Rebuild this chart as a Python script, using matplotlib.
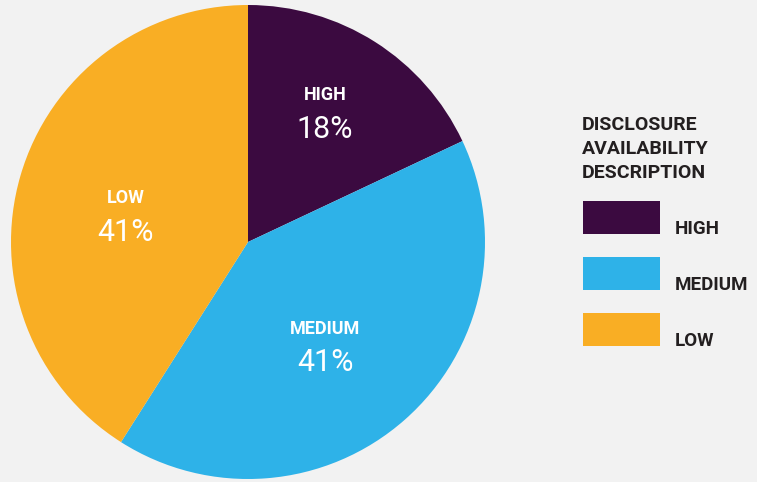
import matplotlib.pyplot as plt

# Disclosure availability shares
categories = ['HIGH', 'MEDIUM', 'LOW']
shares = [18, 41, 41]
colors = ['#3B0A40', '#2EB2E8', '#F9AE24']
legend_title = ['DISCLOSURE', 'AVAILABILITY', 'DESCRIPTION']

# where the in-slice labels sit (pie data units)
label_pos = [(0.325, 0.55), (0.325, -0.435), (-0.515, 0.115)]

bg = '#F2F2F2'
W, H = 757, 482

fig = plt.figure(figsize=(W / 100, H / 100), dpi=100, facecolor=bg)

# pie centre (248, 242) px, radius 237 px
cx, cy, r = 248, 242, 237
ax = fig.add_axes([(cx - r) / W, (H - cy - r) / H, 2 * r / W, 2 * r / H])
ax.set_facecolor(bg)
ax.pie(shares, colors=colors, startangle=90, counterclock=False, radius=1,
       wedgeprops=dict(linewidth=0))
ax.set_xlim(-1, 1)
ax.set_ylim(-1, 1)
ax.set_aspect('equal')
ax.axis('off')

for name, val, (x, y) in zip(categories, shares, label_pos):
    ax.text(x, y + 0.07, name, ha='center', va='center', color='white',
            fontsize=13, fontweight='bold', family='Roboto')
    ax.text(x, y - 0.075, f'{val}%', ha='center', va='center', color='white',
            fontsize=22, family='Roboto')

# legend title
for i, line in enumerate(legend_title):
    fig.text(582 / W, 1 - (130 + 24 * i) / H, line, ha='left', va='baseline',
             fontsize=14, fontweight='bold', family='Roboto', color='#231F20')

# legend swatches and labels
for i, (name, c) in enumerate(zip(categories, colors)):
    top = 201 + 56 * i
    sw = fig.add_axes([583 / W, 1 - (top + 33) / H, 77 / W, 33 / H])
    sw.set_facecolor(c)
    sw.set_xticks([])
    sw.set_yticks([])
    for s in sw.spines.values():
        s.set_visible(False)
    fig.text(675 / W, 1 - (top + 33) / H, name, ha='left', va='baseline',
             fontsize=13.5, fontweight='bold', family='Roboto', color='#231F20')

fig.savefig('out.png', dpi=100, facecolor=bg)
